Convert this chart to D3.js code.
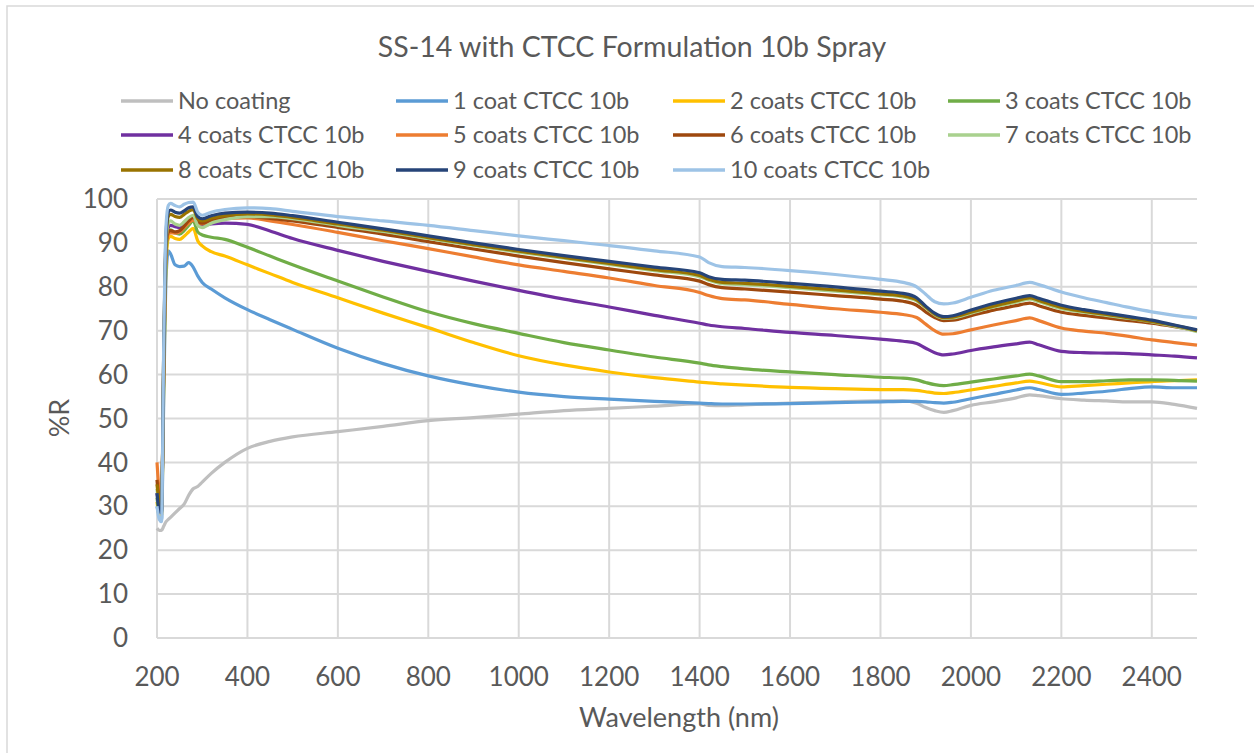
<!DOCTYPE html>
<html>
<head>
<meta charset="utf-8">
<script src="https://cdn.jsdelivr.net/npm/d3@7"></script>
<style>
  body { margin: 0; background: #fff; }
  text { font-family: Lato, "Open Sans", sans-serif; fill: #595959; }
</style>
</head>
<body>
<svg id="chart" width="1254" height="753"></svg>
<script>
// wavelengths (nm) shared by all series
const wavelengths = [200,205,210,215,220,225,230,240,250,260,270,280,290,300,320,350,400,450,500,600,700,800,900,1000,1100,1200,1300,1400,1420,1450,1500,1600,1700,1800,1850,1880,1900,1920,1940,1960,2000,2050,2100,2130,2150,2200,2250,2300,2350,2400,2450,2500];

const seriesNames = ["No coating","1 coat CTCC 10b","2 coats CTCC 10b","3 coats CTCC 10b","4 coats CTCC 10b","5 coats CTCC 10b","6 coats CTCC 10b","7 coats CTCC 10b","8 coats CTCC 10b","9 coats CTCC 10b","10 coats CTCC 10b"];
const seriesColors = ["#BFBFBF","#5B9BD5","#FFC000","#70AD47","#7030A0","#ED7D31","#9E480E","#A9D18E","#997300","#264478","#9DC3E6"];

const noCoating = [25,24.5,24.5,25.5,26.5,27,27.5,28.5,29.5,30.5,32.5,34,34.5,35.5,37.5,40,43.2,44.8,45.8,47,48.2,49.5,50.2,51,51.8,52.3,52.8,53.3,53,52.9,53.1,53.5,53.8,54,54,53.5,52.5,51.8,51.4,51.8,53,53.8,54.7,55.4,55.2,54.5,54.2,54,53.8,53.8,53.2,52.3];
const coat1 = [30,28,27,55,82,88.2,87.5,85,84.6,84.7,85.5,84.5,82.5,81,79.5,77.5,74.8,72.5,70.3,66,62.5,59.7,57.6,56,55,54.4,53.9,53.5,53.4,53.3,53.3,53.4,53.6,53.8,53.9,53.9,53.8,53.6,53.5,53.7,54.5,55.5,56.5,57,56.6,55.5,55.8,56.2,56.8,57.2,57,57];
const coats2 = [31,28,28,58,85,91,91.5,91,90.8,91.5,92.5,93.3,90.5,89.3,88,87,85,83,81,77.5,74,70.7,67.3,64.3,62.2,60.6,59.3,58.3,58.1,57.9,57.6,57.1,56.8,56.6,56.6,56.4,56.1,55.8,55.7,55.9,56.5,57.3,58.1,58.5,58.2,57.2,57.5,57.8,58.1,58.4,58.6,58.8];
const coats3 = [32,29,29,60,87,92.5,93,92.3,92,92.8,94,95,92.5,91.8,91.3,90.8,89,87,85,81.3,77.7,74.3,71.6,69.4,67.3,65.6,64,62.6,62.2,61.8,61.3,60.6,60,59.4,59.2,58.8,58.2,57.7,57.5,57.7,58.3,59,59.7,60.1,59.7,58.4,58.4,58.6,58.8,58.8,58.7,58.5];
const coats4 = [33,30,29,62,89,93.5,94,93.7,93.5,94.3,95.5,96,94.5,94,94.3,94.5,94.2,92.7,91,88.3,85.8,83.5,81.3,79.2,77.2,75.4,73.5,71.7,71.3,70.9,70.5,69.6,68.9,68.1,67.6,67.1,66,65,64.5,64.7,65.5,66.3,67,67.4,66.8,65.3,65,64.9,64.8,64.5,64.2,63.8];
const coats5 = [40,33,30,63,89,92,92.3,92.2,92.5,93.5,94.5,95.2,94.5,94.3,95,95.5,95.7,95,94.2,92.4,90.5,88.7,86.8,85,83.5,82,80.3,78.7,78,77.3,77,76,75,74.2,73.7,73,71.5,70,69.2,69.3,70.2,71.3,72.3,72.9,72.3,70.6,69.9,69.4,68.7,67.9,67.3,66.7];
const coats6 = [36,31,29.5,63,89.5,92.5,92.8,92.5,92.8,93.8,95,95.8,94.8,94.5,95.2,95.8,96,95.6,95,93.5,92,90.3,88.6,87,85.5,84.1,82.7,81.3,80.5,79.8,79.5,78.8,78,77.2,76.7,75.8,74.3,73,72.3,72.4,73.4,74.7,75.7,76.3,75.7,74.2,73.5,72.9,72.3,71.7,70.9,70];
const coats7 = [34,30,29.5,64,90,94.5,95,94.3,94,94.8,95.8,96.3,94,93.5,94.5,95.3,96,96,95.5,94,92.6,91,89.4,87.9,86.5,85.1,83.7,82.3,81.5,80.7,80.5,79.8,79,78.2,77.7,76.8,75.2,73.6,72.8,72.9,74,75.4,76.5,77.2,76.6,75,74.2,73.5,72.8,72,71,69.8];
const coats8 = [35,31,30,66,91,96,96.5,96,95.8,96.5,97.2,97.6,95.5,95,95.6,96.2,96.6,96.4,95.8,94.3,92.9,91.2,89.6,88.1,86.7,85.3,83.9,82.6,81.7,81,80.8,80.1,79.3,78.4,77.9,77,75.4,73.8,73,73.1,74.2,75.6,76.8,77.5,76.9,75.3,74.4,73.7,72.9,72.1,71.2,70];
const coats9 = [33,29,28.5,66,92,97,97.5,97,96.8,97.3,98,98.2,96,95.5,96.2,96.8,97,96.8,96.2,94.7,93.2,91.6,90,88.5,87.1,85.8,84.5,83.2,82.3,81.7,81.5,80.8,80,79,78.5,77.5,75.6,74,73.2,73.4,74.7,76.2,77.4,78,77.4,75.8,74.8,74,73.2,72.4,71.3,70.2];
const coats10 = [30,27,26.5,68,94,98.5,99,98.5,98.2,98.8,99.2,99.3,97,96.3,97,97.6,98,97.8,97.2,96,95,94,92.8,91.6,90.5,89.4,88.2,86.8,85.5,84.6,84.4,83.7,82.8,81.7,81,80,78.3,76.6,76.1,76.3,77.6,79.2,80.3,81,80.5,78.8,77.5,76.4,75.3,74.3,73.5,72.9];

const seriesValues = [noCoating,coat1,coats2,coats3,coats4,coats5,coats6,coats7,coats8,coats9,coats10];

const xTicks = d3.range(200, 2401, 200);
const yTicks = d3.range(0, 101, 10);

const svg = d3.select("#chart");
const margin = {left: 157, right: 1197, top: 199, bottom: 638};

// chart border
svg.append("rect")
	.attr("x", 7).attr("y", 6)
	.attr("width", 1300).attr("height", 800)
	.attr("fill", "none").attr("stroke", "#D9D9D9").attr("stroke-width", 1.5);

const x = d3.scaleLinear().domain([200, 2500]).range([margin.left, margin.right]);
const y = d3.scaleLinear().domain([0, 100]).range([margin.bottom, margin.top]);

// gridlines
svg.append("g").selectAll("line").data(yTicks).join("line")
	.attr("x1", margin.left).attr("x2", margin.right)
	.attr("y1", d => y(d)).attr("y2", d => y(d))
	.attr("stroke", "#D9D9D9").attr("stroke-width", 2);
svg.append("g").selectAll("line").data(xTicks).join("line")
	.attr("x1", d => x(d)).attr("x2", d => x(d))
	.attr("y1", margin.top).attr("y2", margin.bottom)
	.attr("stroke", "#D9D9D9").attr("stroke-width", 2);

// tick labels
svg.append("g").selectAll("text").data(yTicks).join("text")
	.attr("x", 128).attr("y", d => y(d)).attr("dy", "0.35em")
	.attr("text-anchor", "end").style("font-size", "26px")
	.text(d => d);
svg.append("g").selectAll("text").data(xTicks).join("text")
	.attr("x", d => x(d)).attr("y", 677).attr("dy", "0.35em")
	.attr("text-anchor", "middle").style("font-size", "26px")
	.text(d => d);

// axis titles
svg.append("text").attr("x", 679).attr("y", 718).attr("dy", "0.35em")
	.attr("text-anchor", "middle").style("font-size", "27px").text("Wavelength (nm)");
svg.append("text").attr("transform", "translate(60,418) rotate(-90)").attr("dy", "0.35em")
	.attr("text-anchor", "middle").style("font-size", "27px").text("%R");

// title
svg.append("text").attr("x", 632).attr("y", 47).attr("dy", "0.35em")
	.attr("text-anchor", "middle").style("font-size", "28.5px")
	.text("SS-14 with CTCC Formulation 10b Spray");

// series lines
const line = d3.line()
	.x((d, i) => x(wavelengths[i]))
	.y(d => y(d))
	.curve(d3.curveMonotoneX);

svg.append("g").selectAll("path").data(seriesValues).join("path")
	.attr("d", line)
	.attr("fill", "none")
	.attr("stroke", (d, i) => seriesColors[i])
	.attr("stroke-width", 3.2)
	.attr("stroke-linejoin", "round");

// legend (4 columns, 3 rows)
const colX = [121, 396, 673, 948];
const rowY = [101, 135, 170];
const legend = svg.append("g").selectAll("g").data(seriesNames).join("g")
	.attr("transform", (d, i) => `translate(${colX[i % 4]},${rowY[Math.floor(i / 4)]})`);
legend.append("line")
	.attr("x1", 0).attr("x2", 52).attr("y1", 0).attr("y2", 0)
	.attr("stroke", (d, i) => seriesColors[i]).attr("stroke-width", 3.5);
legend.append("text")
	.attr("x", 57).attr("dy", "0.35em").style("font-size", "23.5px")
	.text(d => d);
</script>
</body>
</html>
